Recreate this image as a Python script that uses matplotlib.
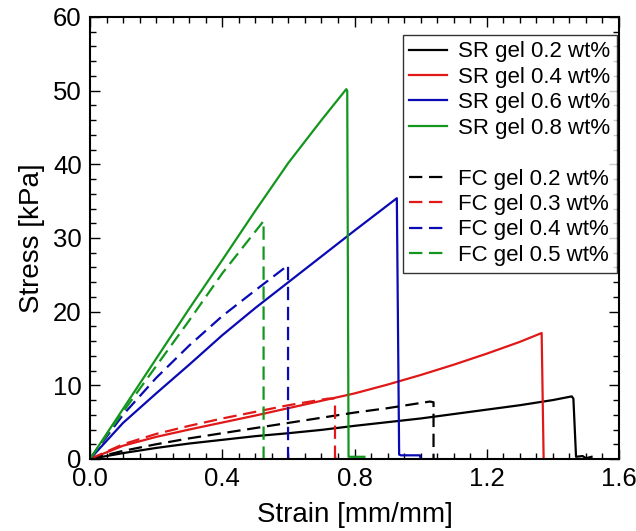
import matplotlib
matplotlib.use("Agg")
import matplotlib.pyplot as plt
from matplotlib.ticker import MultipleLocator

plt.rcParams['font.family'] = ['Liberation Sans', 'DejaVu Sans']

# SR gels (solid lines): strain [mm/mm] and stress [kPa]
sr02_strain = [0, 0.1, 0.2, 0.3, 0.4, 0.5, 0.6, 0.7, 0.8, 0.9, 1.0, 1.1, 1.2, 1.3, 1.4,
               1.457, 1.462, 1.47, 1.49, 1.5, 1.517]
sr02_stress = [0, 0.8, 1.5, 2.1, 2.6, 3.1, 3.5, 3.95, 4.5, 5.0, 5.5, 6.1, 6.7, 7.3, 8.0,
               8.5, 8.2, 0.3, 0.4, 0.1, 0.3]

sr04_strain = [0, 0.1, 0.2, 0.3, 0.4, 0.5, 0.6, 0.7, 0.8, 0.9, 1.0, 1.1, 1.2, 1.3,
               1.366, 1.372]
sr04_stress = [0, 1.8, 3.0, 4.0, 4.95, 5.9, 6.9, 7.9, 8.9, 10.1, 11.4, 12.8, 14.3, 15.9,
               17.1, 0]

sr06_strain = [0, 0.1, 0.2, 0.3, 0.4, 0.5, 0.6, 0.7, 0.8, 0.928, 0.935, 0.94, 0.998, 1.0]
sr06_stress = [0, 4.9, 8.9, 12.8, 16.8, 20.5, 24.0, 27.5, 31.0, 35.4, 0.6, 0.5, 0.5, 0]

sr08_strain = [0, 0.1, 0.2, 0.3, 0.4, 0.5, 0.6, 0.7, 0.775, 0.778, 0.782, 0.83]
sr08_stress = [0, 6.8, 13.6, 20.4, 27.0, 33.7, 40.2, 46.0, 50.2, 50.0, 0.3, 0.3]

# FC gels (dashed lines)
fc02_strain = [0, 0.1, 0.2, 0.3, 0.4, 0.5, 0.6, 0.7, 0.8, 0.9, 1.028, 1.039, 1.039]
fc02_stress = [0, 1.1, 2.0, 2.8, 3.5, 4.2, 4.9, 5.6, 6.3, 6.9, 7.8, 7.7, 0]

fc03_strain = [0, 0.1, 0.2, 0.3, 0.4, 0.5, 0.6, 0.72, 0.74, 0.741, 0.741, 0.76]
fc03_stress = [0, 2.0, 3.4, 4.5, 5.5, 6.4, 7.3, 8.2, 8.2, 8.0, 0.2, 0.2]

fc04_strain = [0, 0.1, 0.2, 0.3, 0.4, 0.5, 0.599, 0.599]
fc04_stress = [0, 6.0, 11.0, 15.4, 19.4, 22.9, 26.3, 0]

fc05_strain = [0, 0.1, 0.2, 0.3, 0.4, 0.525, 0.525]
fc05_stress = [0, 6.4, 12.6, 18.8, 25.2, 32.3, 0]

black = '#000000'
red = '#e01818'
blue = '#0a0ab4'
green = '#14961e'

fig = plt.figure(figsize=(6.36, 5.31), dpi=100)
ax = fig.add_axes([0.1415, 0.1356, 0.8318, 0.8324])

lw = 1.6
dash = (0, (6, 3))
ax.plot(sr02_strain, sr02_stress, color=black, lw=lw, label='SR gel 0.2 wt%')
ax.plot(sr04_strain, sr04_stress, color=red, lw=lw, label='SR gel 0.4 wt%')
ax.plot(sr06_strain, sr06_stress, color=blue, lw=lw, label='SR gel 0.6 wt%')
ax.plot(sr08_strain, sr08_stress, color=green, lw=lw, label='SR gel 0.8 wt%')
ax.plot([], [], color='none', label=' ')
ax.plot(fc02_strain, fc02_stress, color=black, lw=lw, ls=dash, label='FC gel 0.2 wt%')
ax.plot(fc03_strain, fc03_stress, color=red, lw=lw, ls=dash, label='FC gel 0.3 wt%')
ax.plot(fc04_strain, fc04_stress, color=blue, lw=lw, ls=dash, label='FC gel 0.4 wt%')
ax.plot(fc05_strain, fc05_stress, color=green, lw=lw, ls=dash, label='FC gel 0.5 wt%')

ax.set_xlim(0, 1.6)
ax.set_ylim(0, 60)
ax.xaxis.set_major_locator(MultipleLocator(0.4))
ax.xaxis.set_minor_locator(MultipleLocator(0.05))
ax.yaxis.set_major_locator(MultipleLocator(10))
ax.yaxis.set_minor_locator(MultipleLocator(2))
ax.xaxis.set_major_formatter(plt.FormatStrFormatter('%.1f'))

ax.tick_params(which='both', direction='in', top=True, right=True, width=1, labelsize=18.5)
ax.tick_params(which='major', length=7, pad=6)
ax.tick_params(which='minor', length=4.5)
for s in ax.spines.values():
    s.set_linewidth(1.5)

ax.set_xlabel('Strain [mm/mm]', fontsize=20, labelpad=8)
ax.set_ylabel('Stress [kPa]', fontsize=20, labelpad=6)

leg = ax.legend(loc='upper right', bbox_to_anchor=(0.996, 0.96), borderaxespad=0,
                fontsize=16, frameon=True, fancybox=False, edgecolor='black',
                handlelength=1.7, handletextpad=0.5, labelspacing=0.2, borderpad=0.3)
leg.get_frame().set_linewidth(1.0)

fig.savefig('out.png', dpi=100)
